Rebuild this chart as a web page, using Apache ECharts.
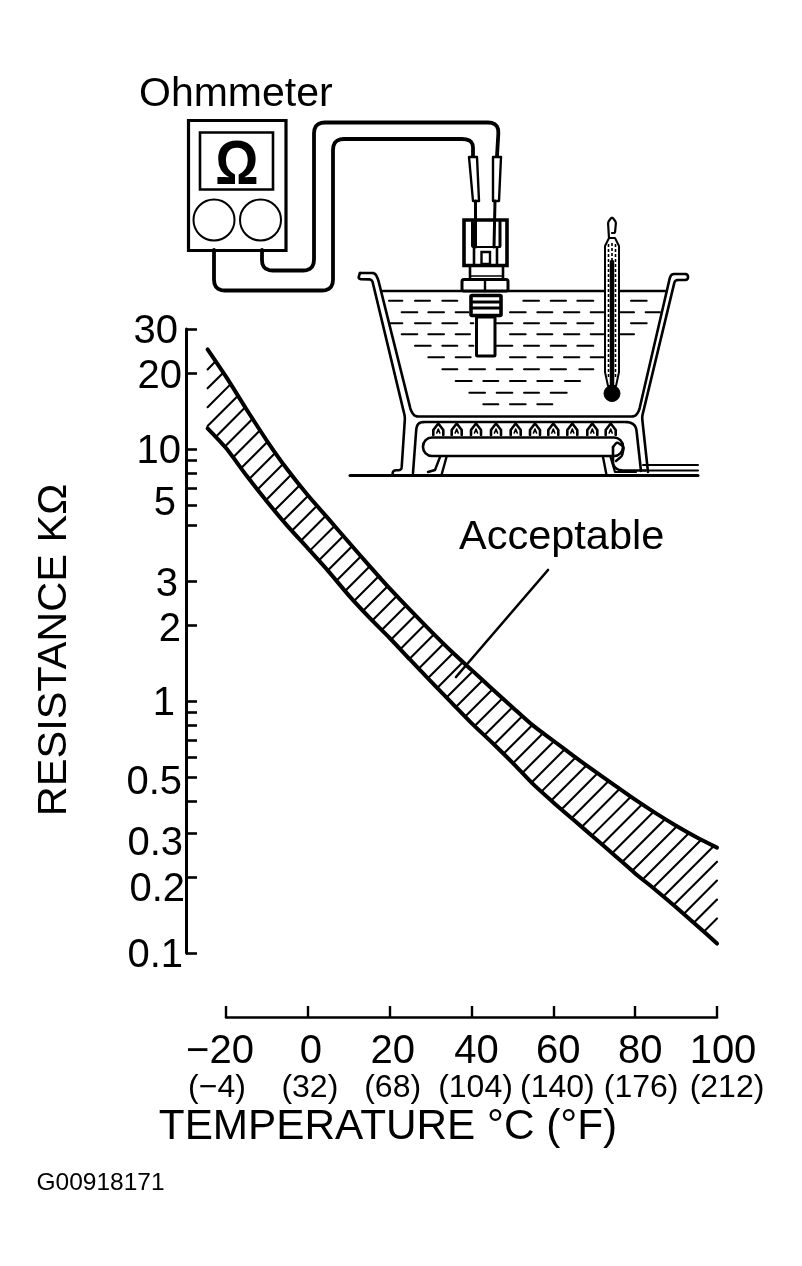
<!DOCTYPE html>
<html>
<head>
<meta charset="utf-8">
<style>html,body{margin:0;padding:0;background:#fff}#c{width:802px;height:1266px}</style>
<script src="https://cdn.jsdelivr.net/npm/echarts@6/dist/echarts.min.js"></script>
</head>
<body>
<div id="c"></div>
<script>
// ---------- chart data ----------
const temperaturesC = [-24.5,-20,-15,-10,-5,0,5,10,15,20,25,30,35,40,45,50,55,60,65,70,75,80,85,90,95,100];
const upperLimitKOhm = [24.9,19.4,14.4,10.8,8.30,6.56,5.30,4.27,3.45,2.80,2.30,1.90,1.58,1.33,1.12,0.946,0.801,0.696,0.605,0.528,0.463,0.406,0.359,0.320,0.288,0.262];
const lowerLimitKOhm = [12.1,10.1,7.86,6.20,4.96,4.04,3.28,2.63,2.15,1.78,1.46,1.20,0.991,0.818,0.685,0.570,0.469,0.396,0.337,0.287,0.244,0.207,0.178,0.152,0.129,0.109];
const yTickValues = [30,20,10,9,8,7,6,5,3,2,1,0.9,0.8,0.7,0.6,0.5,0.4,0.3,0.2,0.1];
const yLabelValues = [30,20,10,5,3,2,1,0.5,0.3,0.2,0.1];
const xLabelsC = ['\u221220','0','20','40','60','80','100'];
const xLabelsF = ['(\u22124)','(32)','(68)','(104)','(140)','(176)','(212)'];

// ---------- style constants ----------
const FONT = '"Liberation Sans", Arial, sans-serif';
const INK = '#000';
const HATCH_PITCH = 18.9, HATCH_FIRST = 577, HATCH_LAST = 1636;
// label nudges: [pixels down, right padding]
const Y_NUDGE = {30:[3,8],20:[4,4],10:[3,5],5:[-21,10],3:[4,8],2:[5,5],1:[3,11],0.5:[6,4],0.3:[11,3],0.2:[13,1],0.1:[3,3]};
const X_NUDGE_C = [-6,3,3,5,5,5,6];
const X_NUDGE_F = [-9,2,3,4,4,6,10];

// ---------- illustration helpers (pixel drawing of the test rig) ----------
function line(pts, w, extra) {
  return Object.assign({type:'polyline', silent:true, shape:{points:pts},
    style:{fill:'none', stroke:INK, lineWidth:w||2.5, lineJoin:'round', lineCap:'round'}}, extra||{});
}
function rounded(pts, r) {
  const out = [pts[0]];
  for (let i=1;i<pts.length-1;i++){
    const p=pts[i],a=pts[i-1],b=pts[i+1];
    const la=Math.hypot(a[0]-p[0],a[1]-p[1]), lb=Math.hypot(b[0]-p[0],b[1]-p[1]);
    const ra=Math.min(r,la/2), rb=Math.min(r,lb/2);
    const s=[p[0]+(a[0]-p[0])*ra/la,p[1]+(a[1]-p[1])*ra/la], e=[p[0]+(b[0]-p[0])*rb/lb,p[1]+(b[1]-p[1])*rb/lb];
    for(let t=0;t<=1.001;t+=0.2){const u=1-t;out.push([u*u*s[0]+2*u*t*p[0]+t*t*e[0],u*u*s[1]+2*u*t*p[1]+t*t*e[1]]);}
  }
  out.push(pts[pts.length-1]);
  return out;
}
function box(x,y,w,h,lw,r,fill){
  return {type:'rect',silent:true,shape:{x:x,y:y,width:w,height:h,r:r||0},style:{fill:fill||'none',stroke:INK,lineWidth:lw||2.5}};
}
function circle(x,y,r,lw,fill){
  return {type:'circle',silent:true,shape:{cx:x,cy:y,r:r},style:{fill:fill||'#fff',stroke:INK,lineWidth:lw||2}};
}
function poly(pts,lw,fill){
  return {type:'polygon',silent:true,shape:{points:pts},style:{fill:fill||'#fff',stroke:INK,lineWidth:lw||2.5,lineJoin:'round'}};
}
function label(t,x,y,size,extra){
  return {type:'text',silent:true,style:Object.assign({text:t,x:x,y:y,fill:INK,font:size+'px '+FONT,textAlign:'left',textVerticalAlign:'middle'},extra||{})};
}

const dashRows = [
 [302,[[147,187],[225,270],[307,352],[550,597],[632,678],[712,760],[873,920]]],
 [337,[[185,232],[265,312],[347,385],[510,557],[592,637],[672,718],[752,798],[838,882],[917,960]]],
 [370,[[150,187],[225,272],[307,352],[392,400],[470,517],[552,597],[632,678],[712,760],[873,920]]],
 [403,[[185,232],[265,312],[347,390],[510,557],[592,637],[672,718],[752,790],[838,882]]],
 [437,[[225,272],[307,352],[388,400],[470,517],[552,597],[632,678],[712,760]]],
 [472,[[265,312],[347,392],[510,557],[592,637],[672,718],[752,790]]],
 [508,[[307,352],[388,435],[470,517],[552,597],[632,678],[718,760]]],
 [543,[[347,395],[430,475],[510,557],[592,637],[675,720]]],
 [578,[[388,435],[470,517],[552,597],[632,680]]],
 [613,[[430,475],[510,557],[592,637]]]
];
const flameX = [438.3,456.7,476,496,515.7,535,553.3,572.3,592.3,610.7];

const rig = [];
// meter
rig.push(box(188.5,120.5,97.5,130,3.2));
rig.push(box(200,132.5,73,57,2.6));
const omega = label('\u03A9',237,166,54,{textAlign:'center',font:'bold 54px '+FONT});
omega.originX=237; omega.originY=162; omega.scaleY=1.18;
rig.push(omega);
rig.push(circle(214,220,20.5,2));
rig.push(circle(260.5,220,20.5,2));
// wires
rig.push(line(rounded([[214,250],[214,290.5],[333,290.5],[333,139],[473,139],[473,156]],11),3.8));
rig.push(line(rounded([[262,250],[262,270.5],[314,270.5],[314,122.5],[499,122.5],[497,156]],11),3.8));
// pot
rig.push(line([[383,291],[665,291]],2.6));
dashRows.forEach(function(row){row[1].forEach(function(s){
  rig.push(line([[340+s[0]/3,200+row[0]/3],[340+s[1]/3,200+row[0]/3]],2));
});});
rig.push(line(rounded([[360,273],[375,273],[378,279],[411,411],[415,416.5],[635,416.5],[639,411],[670,277],[672,274],[688,274],[688,280],[675,280],[642,417],[648,472]],3),2.6));
rig.push(line(rounded([[360,273],[358,279],[372,279.5],[405,417],[401.5,470],[393,470.5],[392.5,475]],3),2.6));
rig.push(line(rounded([[413,473],[416.5,426],[420,422],[630,422],[636,426],[641,471]],5),2.6));
// burner
flameX.forEach(function(x){
  rig.push(line([[x-5,435],[x-5,430],[x,423.5],[x+5,430],[x+5,435]],2.6));
  rig.push(line([[x-1.5,433],[x,429],[x+1.5,433]],1.6));
});
rig.push(box(423,437.5,200,18.5,2.6,9,'#fff'));
rig.push(line(rounded([[613,447],[613,466],[619,470.5],[645,470.5]],4),2.6));
rig.push(line(rounded([[613,447],[617,442],[624,447],[622,456],[616,461]],2),2.4));
rig.push(line([[440,457],[435,470],[428,472]],2.4));
rig.push(line([[446.5,457],[441.5,475]],2.4));
rig.push(line([[603,457],[606.5,475]],2.4));
rig.push(line([[610.5,457],[615,472],[636,472]],2.2));
rig.push(line([[350,475.5],[698,475.5]],3));
rig.push(line([[643,465],[698,465]],2));
rig.push(line([[645,470.5],[698,470.5]],2));
// thermometer
rig.push(poly([[605,246],[609,238],[615,238],[619,246],[619,372],[616,386],[608,386],[605,372]],2,'#fff'));
rig.push(line(rounded([[609,238],[608,222],[612,217],[616,222],[615,233],[612,233]],2),2.2));
rig.push({type:'polyline',silent:true,shape:{points:[[608.5,244],[608.5,378]]},style:{fill:'none',stroke:INK,lineWidth:1.6,lineDash:[3,2]}});
rig.push({type:'polyline',silent:true,shape:{points:[[615.5,244],[615.5,378]]},style:{fill:'none',stroke:INK,lineWidth:1.6,lineDash:[3,2]}});
rig.push({type:'polyline',silent:true,shape:{points:[[612,243],[612,262]]},style:{fill:'none',stroke:INK,lineWidth:1.6,lineDash:[3,2]}});
rig.push(line([[612,262],[612,385]],4.5));
rig.push(circle(612,393.5,8,1,INK));
// sensor
rig.push(poly([[469,157],[477,157],[479,201],[473,201]],2.4));
rig.push(poly([[493,157],[501,157],[499,201],[493,201]],2.4));
rig.push(line([[475.5,201],[475.5,247]],3));
rig.push(line([[495,201],[494,247]],3));
rig.push(box(464,220,43,45.5,3.6));
rig.push(line([[472.5,222],[472.5,246]],3));
rig.push(line([[500,222],[500,246]],3));
rig.push(line([[473,247],[500,247]],2));
rig.push(box(481.5,252,8.5,12,2.4));
rig.push(line([[474,248],[474,264]],2.6));
rig.push(line([[497,248],[497,264]],2.6));
rig.push(line([[470,266],[470,279]],2.6));
rig.push(line([[503,266],[503,279]],2.6));
rig.push(line([[470,276],[503,276]],1.6));
rig.push(box(462,279.5,46,11.5,3,2,'#fff'));
rig.push(line([[485,279.5],[485,291]],2.4));
rig.push(box(471,295.5,30,20,3.6,1,'#fff'));
rig.push(line([[473,302],[499,302]],3));
rig.push(line([[473,308],[499,308]],3));
rig.push(box(476.5,317,18.5,39,3,1,'#fff'));
// free text and leader
rig.push(label('Ohmmeter',139,95,41));
rig.push(label('Acceptable',459,538,41.5));
rig.push(line([[548,570],[456,677]],2.6));
rig.push(label('G00918171',36.5,1183,24.5));

// ---------- axis label rich styles ----------
function pad(dx){ // shift a centred token sideways by dx pixels
  return [0, dx<0?-2*dx:0, 0, dx>0?2*dx:0];
}
const xRich = {};
X_NUDGE_C.forEach(function(n,i){xRich['c'+i]={fontSize:40,fontFamily:FONT,color:INK,lineHeight:38,width:44,align:'center',padding:pad(n)};});
X_NUDGE_F.forEach(function(n,i){xRich['f'+i]={fontSize:32,fontFamily:FONT,color:INK,lineHeight:34,width:44,align:'center',padding:pad(n)};});
const yRich = {};
yLabelValues.forEach(function(v,i){
  const n=Y_NUDGE[v];
  yRich['y'+i]={fontSize:40,fontFamily:FONT,color:INK,padding:[n[0]>0?2*n[0]:0,n[1],n[0]<0?-2*n[0]:0,0]};
});

// ---------- custom renderers ----------
function renderCurve(values){
  return function(params,api){
    if(params.dataIndex!==0) return;
    return {type:'polyline',silent:true,
      shape:{smooth:0.25,points:temperaturesC.map(function(t,i){return api.coord([t,values[i]]);})},
      style:{fill:'none',stroke:INK,lineWidth:4,lineJoin:'round',lineCap:'round'}};
  };
}
function crossing(pts,c){
  for(let i=0;i<pts.length-1;i++){
    const a=pts[i][0]+pts[i][1], b=pts[i+1][0]+pts[i+1][1];
    if((a-c)*(b-c)<=0 && a!==b){
      const t=(c-a)/(b-a);
      return [pts[i][0]+(pts[i+1][0]-pts[i][0])*t, pts[i][1]+(pts[i+1][1]-pts[i][1])*t];
    }
  }
  return null;
}
function renderBandHatch(params,api){
  const up=temperaturesC.map(function(t,i){return api.coord([t,upperLimitKOhm[i]]);});
  const lo=temperaturesC.map(function(t,i){return api.coord([t,lowerLimitKOhm[i]]);});
  const xL=up[0][0], xR=up[up.length-1][0];
  const children=[];
  for(let c=HATCH_FIRST;c<=HATCH_LAST;c+=HATCH_PITCH){
    const s=crossing(lo,c)||[xL,c-xL];
    const e=crossing(up,c)||[xR,c-xR];
    children.push({type:'line',silent:true,shape:{x1:s[0],y1:s[1],x2:e[0],y2:e[1]},
      style:{stroke:INK,lineWidth:2.1,lineCap:'round'}});
  }
  return {type:'group',children:children};
}

// ---------- chart ----------
const chart = echarts.init(document.getElementById('c'), null, {renderer:'canvas', width:802, height:1266});
chart.setOption({
  animation:false,
  backgroundColor:'#fff',
  textStyle:{fontFamily:FONT},
  grid:{left:226,right:85,top:329,bottom:313,containLabel:false},
  xAxis:{
    type:'value',min:-20,max:100,interval:20,offset:64,position:'bottom',
    splitLine:{show:false},
    axisLine:{show:true,onZero:false,lineStyle:{color:INK,width:2.6}},
    axisTick:{show:true,inside:true,length:11,lineStyle:{color:INK,width:2.4}},
    axisLabel:{margin:16,showMinLabel:true,showMaxLabel:true,hideOverlap:false,
      formatter:function(v){const i=Math.round((v+20)/20);return '{c'+i+'|'+xLabelsC[i]+'}\n{f'+i+'|'+xLabelsF[i]+'}';},
      rich:xRich},
    name:'TEMPERATURE \u00B0C (\u00B0F)',nameLocation:'middle',nameGap:89,
    nameTextStyle:{fontSize:42.3,fontFamily:FONT,color:INK,padding:[0,167,0,0]}
  },
  yAxis:{
    type:'log',logBase:10,min:0.1,max:30,offset:40,position:'left',
    splitLine:{show:false},minorTick:{show:false},minorSplitLine:{show:false},
    axisLine:{show:true,onZero:false,lineStyle:{color:INK,width:3}},
    axisTick:{show:true,inside:true,length:11,customValues:yTickValues,lineStyle:{color:INK,width:2.6}},
    axisLabel:{margin:0,customValues:yLabelValues,hideOverlap:false,showMinLabel:true,showMaxLabel:true,
      formatter:function(v){const k=Number(Number(v).toPrecision(3));return '{y'+yLabelValues.indexOf(k)+'|'+k+'}';},
      rich:yRich},
    name:'RESISTANCE K\u03A9',nameLocation:'middle',nameGap:110,nameRotate:90,
    nameTextStyle:{fontSize:41.5,fontFamily:FONT,color:INK,padding:[0,18,0,0]}
  },
  graphic:{elements:rig},
  series:[
    {name:'Upper limit',type:'custom',coordinateSystem:'cartesian2d',silent:true,
     renderItem:renderCurve(upperLimitKOhm),
     data:temperaturesC.map(function(t,i){return [t,upperLimitKOhm[i]];})},
    {name:'Lower limit',type:'custom',coordinateSystem:'cartesian2d',silent:true,
     renderItem:renderCurve(lowerLimitKOhm),
     data:temperaturesC.map(function(t,i){return [t,lowerLimitKOhm[i]];})},
    {name:'Acceptable',type:'custom',coordinateSystem:'cartesian2d',silent:true,
     renderItem:renderBandHatch,data:[[40,1]]}
  ]
});
</script>
</body>
</html>
